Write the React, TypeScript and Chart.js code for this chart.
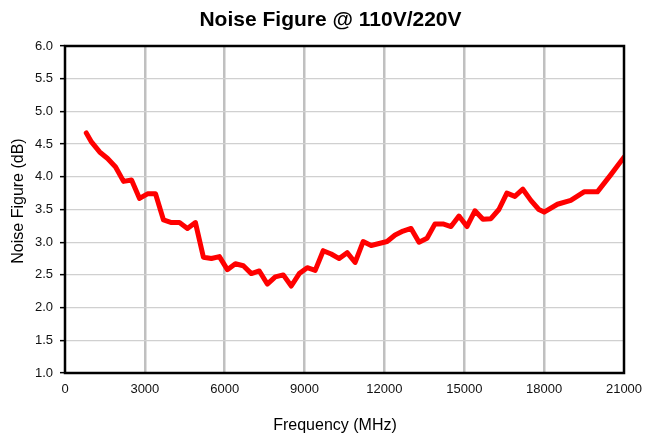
import React, { useEffect, useRef } from "react";
import { Chart, registerables } from "chart.js";

Chart.register(...registerables);

// Frequency (MHz)
const frequencies: number[] = [
  800, 1000, 1300, 1600, 1900, 2200, 2500, 2800, 3100, 3400, 3700, 4000, 4300, 4600, 4900,
  5200, 5500, 5800, 6100, 6400, 6700, 7000, 7300, 7600, 7900, 8200, 8500, 8800, 9100, 9400,
  9700, 10000, 10300, 10600, 10900, 11200, 11500, 11800, 12100, 12400, 12700, 13000, 13300,
  13600, 13900, 14200, 14500, 14800, 15100, 15400, 15700, 16000, 16300, 16600, 16900, 17200,
  17500, 17800, 18000, 18500, 19000, 19500, 20000, 20500, 21000,
];

// Noise figure (dB)
const noiseFigure: number[] = [
  4.67, 4.53, 4.38, 4.28, 4.15, 3.93, 3.95, 3.67, 3.74, 3.74, 3.34, 3.3, 3.3, 3.21, 3.3,
  2.77, 2.75, 2.78, 2.58, 2.67, 2.64, 2.52, 2.56, 2.36, 2.47, 2.5, 2.33, 2.52, 2.61, 2.57,
  2.87, 2.82, 2.75, 2.84, 2.69, 3.01, 2.95, 2.98, 3.01, 3.11, 3.17, 3.21, 3.0,
  3.06, 3.28, 3.28, 3.24, 3.4, 3.24, 3.48, 3.35, 3.36, 3.5, 3.75, 3.7, 3.81,
  3.64, 3.5, 3.46, 3.58, 3.64, 3.77, 3.77, 4.03, 4.3,
];

const xTicks: number[] = [0, 3000, 6000, 9000, 12000, 15000, 18000, 21000];
const yTicks: number[] = [1.0, 1.5, 2.0, 2.5, 3.0, 3.5, 4.0, 4.5, 5.0, 5.5, 6.0];

const chartTitle = "Noise Figure @ 110V/220V";
const xTitle = "Frequency (MHz)";
const yTitle = "Noise Figure (dB)";

const FONT = "'Liberation Sans', Arial, sans-serif";

const framePlugin = {
  id: "frame",
  afterDraw(chart: any) {
    const { ctx, chartArea } = chart;
    ctx.save();
    ctx.strokeStyle = "#000";
    ctx.lineWidth = 2.5;
    ctx.strokeRect(chartArea.left, chartArea.top, chartArea.right - chartArea.left, chartArea.bottom - chartArea.top);
    ctx.restore();
  },
};

// Draws the chart title and both axis titles as canvas text
const titlesPlugin = {
  id: "titles",
  afterDraw(chart: any) {
    const { ctx, chartArea } = chart;
    const midX = (chartArea.left + chartArea.right) / 2;
    const midY = (chartArea.top + chartArea.bottom) / 2;
    ctx.save();
    ctx.fillStyle = "#000";
    ctx.textAlign = "center";
    ctx.textBaseline = "middle";
    ctx.font = `bold 21px ${FONT}`;
    ctx.fillText(chartTitle, midX - 14, chartArea.top - 26);
    ctx.font = `16px ${FONT}`;
    ctx.fillText(xTitle, midX - 9.5, chartArea.bottom + 53);
    ctx.translate(chartArea.left - 46.5, midY - 8.5);
    ctx.rotate(-Math.PI / 2);
    ctx.fillText(yTitle, 0, 0);
    ctx.restore();
  },
};

export default function App() {
  const ref = useRef<HTMLCanvasElement | null>(null);

  useEffect(() => {
    if (!ref.current) return;
    const data = frequencies.map((f, i) => ({ x: f, y: noiseFigure[i] }));
    const chart = new Chart(ref.current, {
      type: "line",
      data: {
        datasets: [
          {
            data,
            borderColor: "#ff0000",
            borderWidth: 5,
            pointRadius: 0,
            tension: 0,
            borderJoinStyle: "round",
            borderCapStyle: "round",
            fill: false,
          },
        ],
      },
      options: {
        responsive: false,
        animation: false,
        layout: { padding: { left: 0, right: 29, top: 46, bottom: 0 } },
        plugins: {
          legend: { display: false },
          tooltip: { enabled: false },
          title: { display: false },
        },
        scales: {
          x: {
            type: "linear",
            min: 0,
            max: 21000,
            afterBuildTicks: (s: any) => {
              s.ticks = xTicks.map((v) => ({ value: v }));
            },
            afterFit: (s: any) => {
              s.height = 65;
            },
            ticks: {
              color: "#111",
              font: { family: FONT, size: 13 },
              padding: 9,
              maxRotation: 0,
              autoSkip: false,
              callback: (v: any) => String(v),
            },
            grid: {
              drawTicks: false,
              color: (c: any) => (c.tick && (c.tick.value === 0 || c.tick.value === 21000) ? "rgba(0,0,0,0)" : "#c0c0c0"),
              lineWidth: 2.5,
            },
            border: { display: false },
          },
          y: {
            type: "linear",
            min: 1,
            max: 6,
            afterBuildTicks: (s: any) => {
              s.ticks = yTicks.map((v) => ({ value: v }));
            },
            afterFit: (s: any) => {
              s.width = 65;
            },
            ticks: {
              color: "#111",
              font: { family: FONT, size: 13 },
              padding: 7,
              autoSkip: false,
              callback: (v: any) => Number(v).toFixed(1),
            },
            grid: {
              drawTicks: true,
              tickLength: 5,
              tickColor: "#000",
              tickWidth: 1.5,
              color: "#d0d0d0",
              lineWidth: 1.3,
            },
            border: { display: false },
          },
        },
      },
      plugins: [framePlugin, titlesPlugin],
    } as any);
    return () => chart.destroy();
  }, []);

  return (
    <div style={{ position: "absolute", left: 0, top: 0, width: 653, height: 438, background: "#fff" }}>
      <canvas ref={ref} width={653} height={438} style={{ display: "block" }} />
    </div>
  );
}
